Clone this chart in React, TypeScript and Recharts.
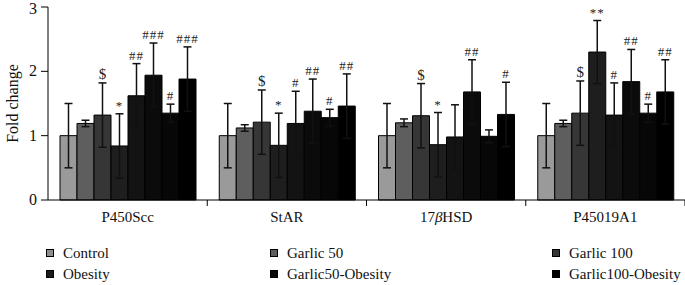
import React from 'react';
import { BarChart, Bar, XAxis, YAxis, ErrorBar, LabelList } from 'recharts';

const genes = ['P450Scc', 'StAR', '17βHSD', 'P45019A1'];

// 8 bars per gene (fold change)
const bar1 = [1.0, 1.0, 1.0, 1.0];
const bar2 = [1.19, 1.12, 1.2, 1.19];
const bar3 = [1.32, 1.21, 1.31, 1.35];
const bar4 = [0.84, 0.85, 0.86, 2.3];
const bar5 = [1.62, 1.19, 0.98, 1.32];
const bar6 = [1.94, 1.38, 1.68, 1.84];
const bar7 = [1.35, 1.28, 0.99, 1.35];
const bar8 = [1.88, 1.46, 1.33, 1.68];

const err1 = [0.5, 0.5, 0.5, 0.5];
const err2 = [0.05, 0.05, 0.06, 0.05];
const err3 = [0.5, 0.5, 0.5, 0.5];
const err4 = [0.5, 0.5, 0.5, 0.49];
const err5 = [0.5, 0.5, 0.5, 0.5];
const err6 = [0.5, 0.5, 0.5, 0.5];
const err7 = [0.14, 0.13, 0.1, 0.14];
const err8 = [0.5, 0.5, 0.5, 0.5];

const marks1 = ['', '', '', ''];
const marks2 = ['', '', '', ''];
const marks3 = ['$', '$', '$', '$'];
const marks4 = ['*', '*', '*', '**'];
const marks5 = ['##', '#', '', '#'];
const marks6 = ['###', '##', '##', '##'];
const marks7 = ['#', '#', '', '#'];
const marks8 = ['###', '##', '#', '##'];

const values = [bar1, bar2, bar3, bar4, bar5, bar6, bar7, bar8];
const errors = [err1, err2, err3, err4, err5, err6, err7, err8];
const marks = [marks1, marks2, marks3, marks4, marks5, marks6, marks7, marks8];
const colors = ['#9a9a9a', '#5e5e5e', '#363636', '#1e1e1e', '#131313', '#0b0b0b', '#070707', '#000000'];

const legendItems = [
  { name: 'Control', color: '#8e8e8e' },
  { name: 'Garlic 50', color: '#5e5e5e' },
  { name: 'Garlic 100', color: '#363636' },
  { name: 'Obesity', color: '#1a1a1a' },
  { name: 'Garlic50-Obesity', color: '#080808' },
  { name: 'Garlic100-Obesity', color: '#000000' },
];

const data = genes.map((g, i) => {
  const row: any = { gene: g };
  values.forEach((v, k) => {
    row['b' + k] = v[i];
    row['e' + k] = errors[k][i];
  });
  return row;
});

const font = '"Liberation Serif", "DejaVu Serif", serif';

const makeMark = (k: number) => (props: any) => {
  const { x, y, width, height, index } = props;
  const txt = marks[k][index];
  if (!txt) return null;
  const v = values[k][index];
  const errPx = (height / v) * errors[k][index];
  return (
    <text
      x={x + width / 2}
      y={y - errPx - 4}
      textAnchor="middle"
      fontFamily={font}
      fontSize={txt[0] === '$' ? 15 : 13}
      letterSpacing={txt[0] === '#' || txt[0] === '*' ? 1 : 0}
      fill="#222"
    >
      {txt}
    </text>
  );
};

const GeneTick = (props: any) => {
  const { x, y, payload } = props;
  const half = payload.offset || 79.5;
  const label = String(payload.value);
  const b = label.indexOf('β');
  return (
    <g>
      <line x1={x + half} y1={y - 8} x2={x + half} y2={y - 2} stroke="#000" />
      <text x={x} y={y + 14} textAnchor="middle" fontFamily={font} fontSize={15} fill="#111">
        {b < 0 ? (
          label
        ) : (
          <>
            <tspan>{label.slice(0, b)}</tspan>
            <tspan fontStyle="italic">β</tspan>
            <tspan>{label.slice(b + 1)}</tspan>
          </>
        )}
      </text>
    </g>
  );
};

const ValueTick = (props: any) => {
  const { x, y, payload } = props;
  return (
    <text x={x - 2} y={y + 5} textAnchor="end" fontFamily={font} fontSize={16} fill="#111">
      {payload.value}
    </text>
  );
};

export default function App() {
  return (
    <div style={{ position: 'absolute', left: 0, top: 0, width: 685, height: 285, background: '#fff' }}>
      <BarChart
        width={685}
        height={230}
        data={data}
        margin={{ top: 7, right: 0, left: 0, bottom: 0 }}
        barCategoryGap={12}
        barGap={0}
      >
        <XAxis
          dataKey="gene"
          height={30}
          axisLine={{ stroke: '#000' }}
          tickLine={false}
          tick={<GeneTick />}
          interval={0}
        />
        <YAxis
          width={48}
          domain={[0, 3]}
          ticks={[0, 1, 2, 3]}
          axisLine={{ stroke: '#000' }}
          tickLine={{ stroke: '#000' }}
          tickSize={7}
          tick={<ValueTick />}
          label={{
            value: 'Fold change',
            angle: -90,
            position: 'insideLeft',
            offset: 0,
            dx: 12,
            style: { fontFamily: font, fontSize: 16, fill: '#111', textAnchor: 'middle' },
          }}
        />
        {values.map((_, k) => (
          <Bar
            key={k}
            dataKey={'b' + k}
            fill={colors[k]}
            stroke="#000"
            strokeWidth={1}
            isAnimationActive={false}
          >
            <ErrorBar dataKey={'e' + k} width={4} stroke="#111" strokeWidth={1.5} />
            <LabelList dataKey={'b' + k} content={makeMark(k)} />
          </Bar>
        ))}
      </BarChart>
      {legendItems.map((it, i) => {
        const col = i % 3;
        const row = Math.floor(i / 3);
        const lefts = [46, 270, 552];
        return (
          <div
            key={it.name}
            style={{
              position: 'absolute',
              left: lefts[col],
              top: 244 + row * 21,
              height: 18,
              display: 'flex',
              alignItems: 'center',
              fontFamily: font,
              fontSize: 15,
              color: '#111',
              whiteSpace: 'nowrap',
            }}
          >
            <span
              style={{
                display: 'inline-block',
                width: 6,
                height: 6,
                border: '1.5px solid #000',
                background: it.color,
                marginRight: 9,
              }}
            />
            {it.name}
          </div>
        );
      })}
    </div>
  );
}
